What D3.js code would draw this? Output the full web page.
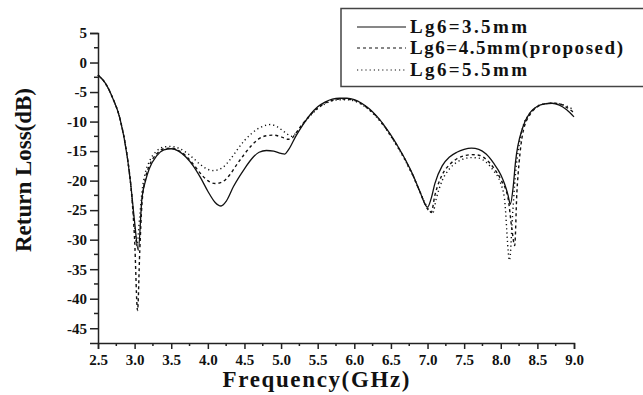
<!DOCTYPE html>
<html>
<head>
<meta charset="utf-8">
<script src="https://cdn.jsdelivr.net/npm/d3@7"></script>
<style>
  body { margin: 0; background: #fff; }
  svg { display: block; font-family: "Liberation Serif", "Times New Roman", Times, serif; }
  svg text { font-family: "Liberation Serif", "Times New Roman", Times, serif; font-weight: bold; fill: #111; }
</style>
</head>
<body>
<div id="chart"></div>
<script>
// ---- data ----
const seriesNames = ["Lg6=3.5mm", "Lg6=4.5mm(proposed)", "Lg6=5.5mm"];

const freq1 = [2.5,2.6,2.7,2.8,2.9,2.95,3.0,3.05,3.1,3.15,3.2,3.3,3.4,3.5,3.6,3.7,3.8,3.9,4.0,4.1,4.18,4.25,4.35,4.5,4.6,4.7,4.8,4.9,5.0,5.05,5.1,5.2,5.3,5.4,5.5,5.6,5.7,5.8,5.9,6.0,6.1,6.2,6.3,6.4,6.5,6.6,6.7,6.8,6.9,7.0,7.05,7.1,7.2,7.3,7.4,7.5,7.6,7.7,7.8,7.9,8.0,8.05,8.1,8.13,8.17,8.2,8.3,8.4,8.5,8.6,8.7,8.8,8.9,9.0];
const rl1 = [-2.1,-3.5,-6,-9.5,-16,-21,-27,-31.8,-23,-20,-18,-15.8,-14.8,-14.6,-15,-16,-17.5,-19.5,-21.8,-23.7,-24.3,-23.5,-21,-18,-16.3,-15.2,-14.9,-15,-15.4,-15.5,-14.8,-12.5,-10.5,-8.8,-7.5,-6.7,-6.2,-6.05,-6.05,-6.3,-6.9,-7.8,-9,-10.5,-12.3,-14.3,-16.5,-19,-22,-24.5,-23,-20.5,-17.5,-16,-15.2,-14.7,-14.5,-14.7,-15.5,-17,-19,-20.5,-22.5,-24,-21,-17,-11,-8.5,-7.4,-7,-6.9,-7.2,-8,-9.2];

const freq2 = [2.5,2.6,2.7,2.8,2.9,2.95,3.0,3.04,3.07,3.1,3.15,3.2,3.3,3.4,3.5,3.6,3.7,3.8,3.9,4.0,4.1,4.2,4.3,4.4,4.5,4.6,4.7,4.8,4.9,5.0,5.1,5.15,5.2,5.3,5.4,5.5,5.6,5.7,5.8,5.9,6.0,6.1,6.2,6.3,6.4,6.5,6.6,6.7,6.8,6.9,7.0,7.05,7.1,7.2,7.3,7.4,7.5,7.6,7.7,7.8,7.9,8.0,8.1,8.15,8.19,8.22,8.25,8.3,8.4,8.5,8.6,8.7,8.8,8.9,9.0];
const rl2 = [-2.1,-3.5,-6,-9.5,-16,-21,-30,-42,-32,-24,-19.5,-17.5,-15.5,-14.6,-14.5,-14.9,-15.8,-17.2,-18.8,-20,-20.5,-20.2,-19,-17.2,-15.5,-14,-12.9,-12.4,-12.3,-12.6,-13,-12.8,-12,-10.3,-8.9,-7.7,-6.9,-6.4,-6.2,-6.2,-6.4,-7,-7.9,-9.1,-10.6,-12.4,-14.4,-16.6,-19.1,-22,-24.8,-25.4,-22.5,-19,-17.3,-16.3,-15.8,-15.6,-15.7,-16.4,-17.8,-19.8,-23,-28,-31,-22,-17,-12,-8.8,-7.5,-7,-6.9,-7,-7.6,-8.5];

const freq3 = [2.5,2.6,2.7,2.8,2.9,2.95,3.0,3.03,3.07,3.1,3.15,3.2,3.3,3.4,3.5,3.6,3.7,3.8,3.9,4.0,4.07,4.2,4.3,4.4,4.5,4.6,4.7,4.8,4.85,4.95,5.05,5.15,5.2,5.3,5.4,5.5,5.6,5.7,5.8,5.9,6.0,6.1,6.2,6.3,6.4,6.5,6.6,6.7,6.8,6.9,7.0,7.07,7.12,7.2,7.3,7.4,7.5,7.6,7.7,7.8,7.9,8.0,8.05,8.12,8.16,8.2,8.25,8.3,8.4,8.5,8.6,8.7,8.8,8.9,9.0];
const rl3 = [-2.1,-3.5,-6,-9.5,-16,-21,-28,-31,-26,-22,-18.5,-16.8,-15,-14.3,-14.2,-14.5,-15.2,-16.2,-17.3,-18.1,-18.3,-17.8,-16.5,-14.8,-13.2,-12,-11.1,-10.6,-10.5,-10.9,-11.8,-12.5,-12,-10.4,-9,-7.8,-7,-6.5,-6.3,-6.3,-6.5,-7.1,-8,-9.2,-10.7,-12.5,-14.5,-16.7,-19.2,-22,-24.6,-25.5,-23,-20,-18,-16.9,-16.3,-16.1,-16.2,-16.9,-18.3,-20.5,-23,-33.5,-26,-19,-14,-11,-8.6,-7.4,-7,-6.9,-7,-7.4,-8];

const xTicks = [2.5,3.0,3.5,4.0,4.5,5.0,5.5,6.0,6.5,7.0,7.5,8.0,8.5,9.0];
const yTicks = [5,0,-5,-10,-15,-20,-25,-30,-35,-40,-45];

// ---- layout ----
const width = 643, height = 395;

const x = d3.scaleLinear().domain([2.5, 9.0]).range([98, 574]);
const y = d3.scaleLinear().domain([-47.5, 5]).range([343, 33]);

const svg = d3.select("#chart").append("svg")
  .attr("width", width).attr("height", height);

// axes
const xAxis = d3.axisBottom(x).tickValues(xTicks).tickSize(6).tickFormat(d3.format(".1f"));
const gx = svg.append("g").attr("transform", `translate(0,${y(-47.5)})`).call(xAxis);
gx.attr("font-family", null).attr("font-size", null);
gx.select(".domain").attr("stroke", "#222").attr("stroke-width", 1.5);
gx.selectAll(".tick line").attr("stroke", "#222").attr("stroke-width", 1.5);
gx.selectAll(".tick text").attr("font-size", 15).attr("dy", "0.85em").attr("fill", "#111");

// x minor ticks
svg.append("g").selectAll("line")
  .data(d3.range(2.75, 9.0, 0.5))
  .join("line")
  .attr("x1", d => x(d)).attr("x2", d => x(d))
  .attr("y1", y(-47.5)).attr("y2", y(-47.5) + 3)
  .attr("stroke", "#222").attr("stroke-width", 1.5);

const yAxis = d3.axisLeft(y).tickValues(yTicks).tickSize(8).tickFormat(d => d);
const gy = svg.append("g").attr("transform", `translate(${x(2.5)},0)`).call(yAxis);
gy.attr("font-family", null).attr("font-size", null);
gy.select(".domain").attr("stroke", "#222").attr("stroke-width", 1.5);
gy.selectAll(".tick line").attr("stroke", "#222").attr("stroke-width", 1.5);
gy.selectAll(".tick text").attr("font-size", 15).attr("x", -11).attr("fill", "#111");

// y minor ticks
svg.append("g").selectAll("line")
  .data(d3.range(2.5, -47.5, -5))
  .join("line")
  .attr("x1", x(2.5) - 4).attr("x2", x(2.5))
  .attr("y1", d => y(d)).attr("y2", d => y(d))
  .attr("stroke", "#222").attr("stroke-width", 1.5);

// axis titles
svg.append("text")
  .attr("x", 316).attr("y", 387)
  .attr("text-anchor", "middle")
  .attr("font-size", 23)
  .attr("textLength", 187).attr("lengthAdjust", "spacing")
  .text("Frequency(GHz)");

svg.append("text")
  .attr("transform", "translate(31,170) rotate(-90)")
  .attr("text-anchor", "middle")
  .attr("font-size", 23)
  .attr("textLength", 164).attr("lengthAdjust", "spacing")
  .text("Return Loss(dB)");

// curves
const dashes = [null, "3,3", "1.2,3"];
const series = [
  freq1.map((f, i) => [f, rl1[i]]),
  freq2.map((f, i) => [f, rl2[i]]),
  freq3.map((f, i) => [f, rl3[i]])
];

const line = d3.line()
  .x(d => x(d[0]))
  .y(d => y(d[1]))
  .curve(d3.curveMonotoneX);

svg.append("g").selectAll("path")
  .data(series)
  .join("path")
  .attr("d", line)
  .attr("fill", "none")
  .attr("stroke", "#111")
  .attr("stroke-width", (d, i) => i == 0 ? 1.3 : 1.4)
  .attr("stroke-dasharray", (d, i) => dashes[i]);

// legend
const legend = svg.append("g");
legend.append("rect")
  .attr("x", 341).attr("y", 8.5)
  .attr("width", 310).attr("height", 78)
  .attr("fill", "#fff").attr("stroke", "#444").attr("stroke-width", 1.5);

const legendY = [27, 48, 70];
const legendW = [117, 213, 117];
seriesNames.forEach((name, i) => {
  legend.append("line")
    .attr("x1", 357).attr("x2", 406)
    .attr("y1", legendY[i]).attr("y2", legendY[i])
    .attr("stroke", "#111").attr("stroke-width", 1.2)
    .attr("stroke-dasharray", dashes[i]);
  legend.append("text")
    .attr("x", 410).attr("y", legendY[i] + 6)
    .attr("font-size", 19)
    .attr("textLength", legendW[i]).attr("lengthAdjust", "spacing")
    .text(name);
});
</script>
</body>
</html>
